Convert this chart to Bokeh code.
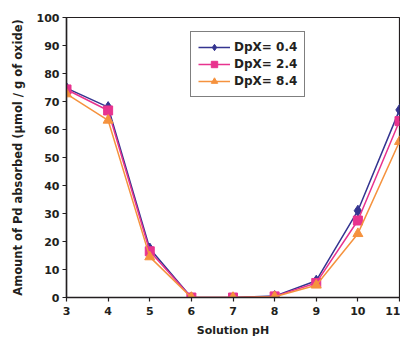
from bokeh.plotting import figure
from bokeh.models import Range1d, Legend, LegendItem, FixedTicker
from bokeh.embed import file_html
from bokeh.resources import INLINE

ph = [3, 4, 5, 6, 7, 8, 9, 10, 11]
dpx_04 = [74.8, 68.0, 17.5, 0.0, 0.0, 0.5, 6.0, 31.0, 67.0]
dpx_24 = [74.3, 66.8, 16.5, 0.0, 0.0, 0.4, 5.2, 27.5, 63.0]
dpx_84 = [72.7, 63.3, 14.5, 0.0, 0.0, 0.3, 4.4, 22.8, 55.7]
labels = ["DpX= 0.4", "DpX= 2.4", "DpX= 8.4"]
x_ticks = [3, 4, 5, 6, 7, 8, 9, 10, 11]
y_ticks = [0, 10, 20, 30, 40, 50, 60, 70, 80, 90, 100]

FONT = "DejaVu Sans"
DARK = "#231f20"

p = figure(width=400, height=339, output_backend="svg", toolbar_location=None,
           x_range=Range1d(3, 11), y_range=Range1d(0, 100),
           min_border_left=66, min_border_right=1, min_border_top=17, min_border_bottom=42)
p.grid.visible = False
p.outline_line_color = DARK
p.outline_line_width = 1.2
p.background_fill_color = "white"
p.border_fill_color = "white"

for ax in (p.xaxis[0], p.yaxis[0]):
    ax.axis_line_color = DARK
    ax.axis_line_width = 1.5
    ax.major_tick_line_color = DARK
    ax.major_tick_line_width = 1.2
    ax.major_tick_in = 0
    ax.major_tick_out = 4
    ax.minor_tick_line_color = None
    ax.major_label_text_font = FONT
    ax.major_label_text_font_style = "bold"
    ax.major_label_text_font_size = "11px"
    ax.major_label_text_color = DARK
    ax.axis_label_text_font = FONT
    ax.axis_label_text_font_style = "bold"
    ax.axis_label_text_font_size = "11.5px"
    ax.axis_label_text_color = DARK

p.xaxis.axis_label_text_font_size = "11px"
p.xaxis.ticker = FixedTicker(ticks=x_ticks)
p.yaxis.ticker = FixedTicker(ticks=y_ticks)
p.xaxis.axis_label = "Solution pH"
p.yaxis.axis_label = "Amount of Pd absorbed (\u03bcmol / g of oxide)"
p.xaxis.axis_label_standoff = 6
p.yaxis.axis_label_standoff = 9
p.xaxis.major_label_standoff = 5
p.yaxis.major_label_standoff = 3

c1, c2, c3 = "#343490", "#e8338e", "#f5923e"
l1 = p.line(ph, dpx_04, line_color=c1, line_width=1.5)
m1 = p.scatter(ph, dpx_04, marker="diamond", size=11, fill_color=c1, line_color=c1)
l2 = p.line(ph, dpx_24, line_color=c2, line_width=1.5)
m2 = p.scatter(ph, dpx_24, marker="square", size=9, fill_color=c2, line_color=c2)
l3 = p.line(ph, dpx_84, line_color=c3, line_width=1.5)
m3 = p.scatter(ph, dpx_84, marker="triangle", size=10, fill_color=c3, line_color=c3)

legend = Legend(items=[
    LegendItem(label=labels[0], renderers=[l1, m1]),
    LegendItem(label=labels[1], renderers=[l2, m2]),
    LegendItem(label=labels[2], renderers=[l3, m3]),
], location=(124, 200))
legend.border_line_color = "black"
legend.border_line_width = 1.2
legend.padding = 7
legend.margin = 0
legend.spacing = 1
legend.glyph_width = 32
legend.glyph_height = 16
legend.label_height = 16
legend.label_standoff = 4
legend.label_text_font = FONT
legend.label_text_font_style = "bold"
legend.label_text_font_size = "12px"
legend.label_text_color = DARK
p.add_layout(legend, "center")

open("out.html", "w").write(file_html(p, INLINE))
